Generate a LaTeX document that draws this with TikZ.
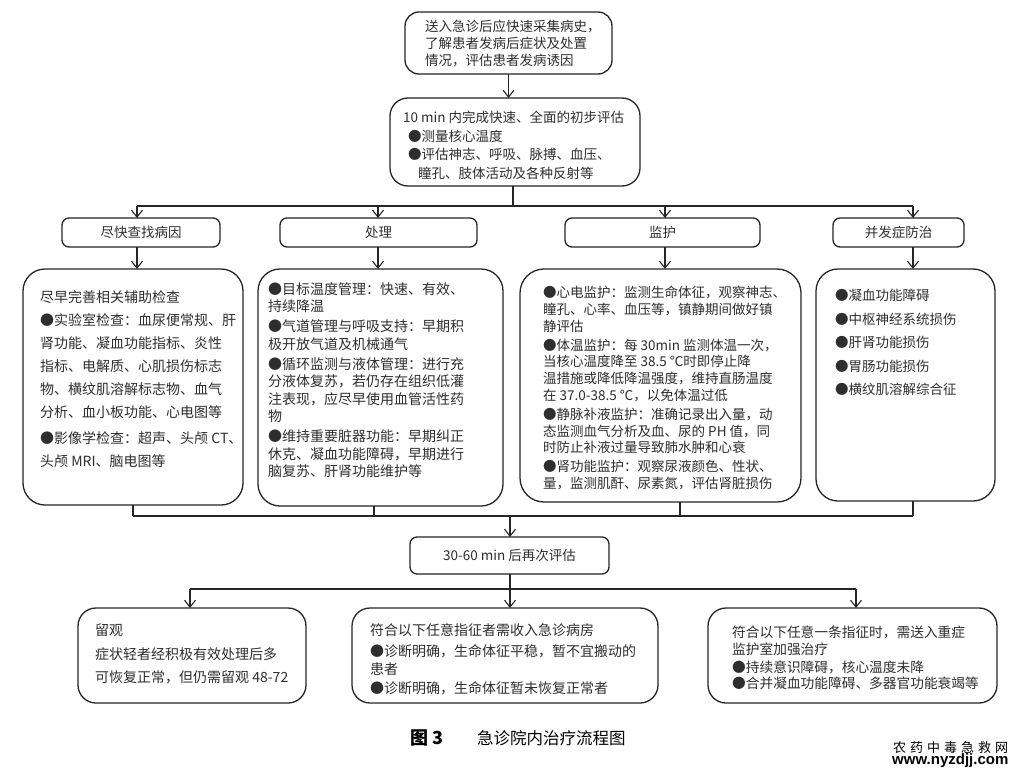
\documentclass[tikz,border=0pt]{standalone}
\usepackage{fontspec}
\newfontfamily\cjk{Noto Sans CJK SC}
\newfontfamily\lsans{Liberation Sans}
\newcommand\setfs[2]{\cjk\fontsize{#1}{#2}\selectfont}
\usetikzlibrary{arrows.meta}
\begin{document}
\begin{tikzpicture}[x=1pt,y=-1pt,
  bx/.style={draw=black!85,line width=1.3pt,rounded corners=#1,inner sep=0pt,outer sep=0pt},
  bx/.default=18pt,
  tx/.style={align=left,inner sep=0pt,anchor=north west,text=black!82},
  hd/.style={bx=7pt,minimum height=29pt,font=\setfs{13.5}{16},text=black!82},
  ln/.style={draw=black!85,line width=1.2pt},
  arr/.style={ln,-{Straight Barb[length=7pt,width=11pt,line width=1.1pt]}},
]
\fill[white] (0,0) rectangle (1019,768);
\useasboundingbox (0,0) rectangle (1019,768);

% top boxes
\node[bx=14pt,minimum width=207pt,minimum height=62pt] (T) at (508.5,43) {};
\node[tx,font=\setfs{13.5}{17}] (Tt) at (425,20) {送入急诊后应快速采集病史，\\了解患者发病后症状及处置\\情况，评估患者发病诱因};

\node[bx=18pt,minimum width=250pt,minimum height=88pt] (P) at (515,142) {};
\node[tx,font=\setfs{13.5}{18.5}] (Pt) at (403,111) {10 min 内完成快速、全面的初步评估\\\hspace*{5pt}●测量核心温度\\\hspace*{5pt}●评估神志、呼吸、脉搏、血压、\\\hspace*{15pt}瞳孔、肢体活动及各种反射等};

% headers
\node[hd,minimum width=158pt] (H1) at (141,232.5) {尽快查找病因};
\node[hd,minimum width=197pt] (H2) at (378.5,232.5) {处理};
\node[hd,minimum width=195pt] (H3) at (662.5,232.5) {监护};
\node[hd,minimum width=131pt] (H4) at (898.5,232.5) {并发症防治};

% big boxes
\node[bx=22pt,minimum width=220pt,minimum height=236pt] (A) at (133,387) {};
\node[bx=22pt,minimum width=245pt,minimum height=237pt] (B) at (380.5,387.5) {};
\node[bx=24pt,minimum width=281pt,minimum height=233pt] (C) at (660.5,385.5) {};
\node[bx=22pt,minimum width=179pt,minimum height=232pt] (D) at (905.5,385) {};

\node[tx,font=\setfs{14}{23}] (At) at (40,290) {尽早完善相关辅助检查\\●实验室检查：血尿便常规、肝\\肾功能、凝血功能指标、炎性\\指标、电解质、心肌损伤标志\\物、横纹肌溶解标志物、血气\\分析、血小板功能、心电图等\\[3pt]●影像学检查：超声、头颅 CT、\\头颅 MRI、脑电图等};

\node[tx,font=\setfs{14}{17.5}] (Bt) at (268,282) {●目标温度管理：快速、有效、\\持续降温\\[2.5pt]●气道管理与呼吸支持：早期积\\极开放气道及机械通气\\[2.5pt]●循环监测与液体管理：进行充\\分液体复苏，若仍存在组织低灌\\注表现，应尽早使用血管活性药\\物\\[2.5pt]●维持重要脏器功能：早期纠正\\休克、凝血功能障碍，早期进行\\脑复苏、肝肾功能维护等};

\node[tx,font=\setfs{13.5}{16.8}] (Ct) at (543,286) {●心电监护：监测生命体征，观察神志、\\瞳孔、心率、血压等，镇静期间做好镇\\静评估\\[2pt]●体温监护：每 30min 监测体温一次，\\当核心温度降至 38.5 ℃时即停止降\\温措施或降低降温强度，维持直肠温度\\在 37.0-38.5 ℃，以免体温过低\\[2pt]●静脉补液监护：准确记录出入量，动\\态监测血气分析及血、尿的 PH 值，同\\时防止补液过量导致肺水肿和心衰\\[2pt]●肾功能监护：观察尿液颜色、性状、\\量，监测肌酐、尿素氮，评估肾脏损伤};

\node[tx,font=\setfs{13.5}{23.5}] (Dt) at (835,289) {●凝血功能障碍\\●中枢神经系统损伤\\●肝肾功能损伤\\●胃肠功能损伤\\●横纹肌溶解综合征};

% middle
\node[hd,minimum width=199pt,minimum height=37pt] (M) at (509.5,555.5) {30-60 min 后再次评估};

% bottom boxes
\node[bx=18pt,minimum width=228pt,minimum height=95pt] (E) at (192,655.5) {};
\node[bx=18pt,minimum width=306pt,minimum height=95pt] (F) at (505,655.5) {};
\node[bx=18pt,minimum width=289pt,minimum height=95pt] (G) at (852.5,655.5) {};

\node[tx,font=\setfs{14}{23.5}] (Et) at (95,624) {留观\\症状轻者经积极有效处理后多\\可恢复正常，但仍需留观 48-72};
\node[tx,font=\setfs{14}{18}] (Ft) at (370,623) {符合以下任意指征者需收入急诊病房\\[3pt]●诊断明确，生命体征平稳，暂不宜搬动的\\患者\\[1pt]●诊断明确，生命体征暂未恢复正常者};
\node[tx,font=\setfs{13.7}{16.5}] (Gt) at (732,626) {符合以下任意一条指征时，需送入重症\\监护室加强治疗\\[1.5pt]●持续意识障碍，核心温度未降\\●合并凝血功能障碍、多器官功能衰竭等};

% connectors top
\coordinate (s1) at (513,206);
\coordinate (c1) at (137,206);
\coordinate (c2) at (378,206);
\coordinate (c3) at (665,206);
\coordinate (c4) at (913,206);
\draw[arr] (T.south) -- (T.south |- P.north);
\draw[ln] (s1 |- P.south) -- (s1);
\draw[ln] (c1) -- (c4);
\foreach \i/\h/\b in {1/H1/A,2/H2/B,3/H3/C,4/H4/D} {
  \draw[arr] (c\i) -- (c\i |- \h.north);
  \draw[arr] (c\i |- \h.south) -- (c\i |- \b.north);
}

% connectors bottom
\coordinate (d1) at (133,516);
\coordinate (d2) at (374,516);
\coordinate (d3) at (680,516);
\coordinate (d4) at (913,516);
\coordinate (s2) at (510,516);
\foreach \i/\b in {1/A,2/B,3/C,4/D} {\draw[ln] (d\i |- \b.south) -- (d\i);}
\draw[ln] (d1) -- (d4);
\draw[arr] (s2) -- (s2 |- M.north);

\coordinate (s3) at (510,589);
\coordinate (e1) at (190,589);
\coordinate (e2) at (510,589);
\coordinate (e3) at (856,589);
\draw[ln] (s3 |- M.south) -- (s3);
\draw[ln] (e1) -- (e3);
\draw[arr] (e1) -- (e1 |- E.north);
\draw[arr] (e2) -- (e2 |- F.north);
\draw[arr] (e3) -- (e3 |- G.north);

% caption
\node[font=\cjk\bfseries\fontsize{18}{18}\selectfont,anchor=west,inner sep=0pt] (cap1) at (410,738) {图\hspace{4pt}3};
\node[font=\setfs{16.5}{17},anchor=west,inner sep=0pt] (cap2) at (477,738) {急诊院内治疗流程图};
\node[font=\setfs{13}{13},anchor=west,inner sep=0pt] (wm1) at (893,748) {农\hspace{4pt}药\hspace{4pt}中\hspace{4pt}毒\hspace{4pt}急\hspace{4pt}救\hspace{4pt}网};
\node[font=\lsans\bfseries\fontsize{15}{15}\selectfont,anchor=west,inner sep=0pt] (wm2) at (892,761) {www.nyzdjj.com};
\end{tikzpicture}
\end{document}
